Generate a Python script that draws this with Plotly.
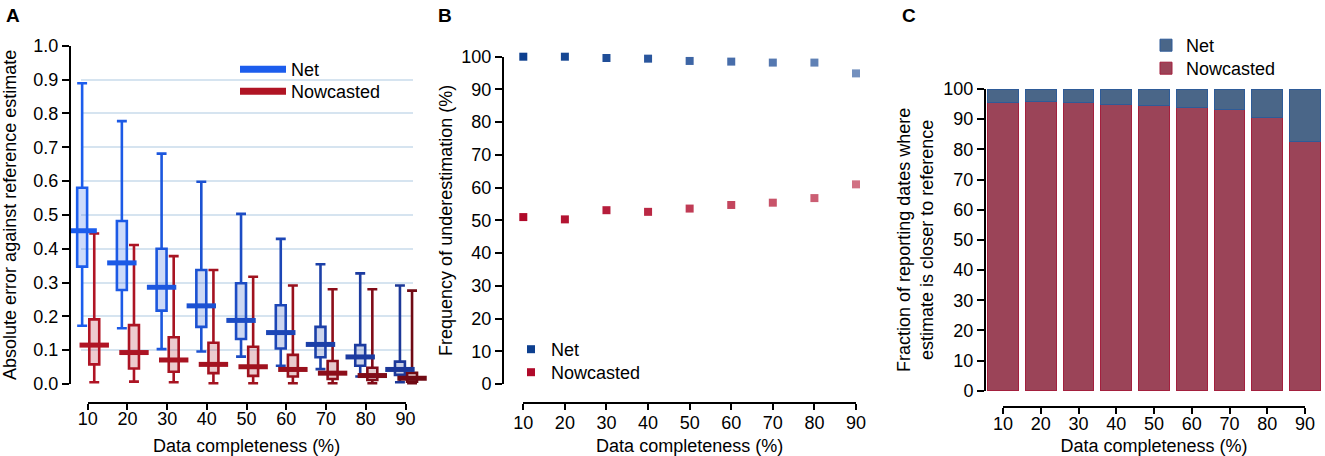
import plotly.graph_objects as go

W, H = 1325, 456

# ---------------- data ----------------
completeness = [10, 20, 30, 40, 50, 60, 70, 80, 90]

# Panel A: absolute error box summaries
net_min = [0.172, 0.165, 0.103, 0.096, 0.081, 0.054, 0.044, 0.022, 0.005]
net_q1 = [0.347, 0.278, 0.217, 0.169, 0.133, 0.105, 0.079, 0.054, 0.027]
net_med = [0.453, 0.358, 0.286, 0.231, 0.188, 0.152, 0.117, 0.080, 0.043]
net_q3 = [0.580, 0.482, 0.400, 0.337, 0.298, 0.233, 0.169, 0.115, 0.066]
net_max = [0.889, 0.777, 0.681, 0.598, 0.503, 0.429, 0.354, 0.327, 0.291]

now_min = [0.005, 0.007, 0.005, 0.002, 0.002, 0.002, 0.002, 0.002, 0.002]
now_q1 = [0.058, 0.046, 0.036, 0.032, 0.024, 0.022, 0.015, 0.012, 0.007]
now_med = [0.115, 0.093, 0.071, 0.058, 0.051, 0.043, 0.032, 0.025, 0.017]
now_q3 = [0.191, 0.174, 0.138, 0.122, 0.110, 0.086, 0.068, 0.048, 0.033]
now_max = [0.445, 0.411, 0.378, 0.337, 0.317, 0.291, 0.280, 0.280, 0.276]

# Panel B: frequency of underestimation (%)
net_under = [100.0, 100.0, 99.6, 99.4, 98.7, 98.5, 98.2, 98.2, 94.9]
now_under = [51.0, 50.3, 53.1, 52.6, 53.6, 54.7, 55.4, 56.8, 61.0]

# Panel C: fraction of reporting dates where estimate is closer to reference (%)
now_closer = [95.4, 95.9, 95.4, 95.0, 94.6, 93.8, 93.3, 90.5, 82.7]
net_closer = [4.6, 4.1, 4.6, 5.0, 5.4, 6.2, 6.7, 9.5, 17.3]

xticks = [10, 20, 30, 40, 50, 60, 70, 80, 90]
yticks_a = [0.0, 0.1, 0.2, 0.3, 0.4, 0.5, 0.6, 0.7, 0.8, 0.9, 1.0]
yticks_a_text = ["0.0", "0.1", "0.2", "0.3", "0.4", "0.5", "0.6", "0.7", "0.8", "0.9", "1.0"]
yticks_pct = [0, 10, 20, 30, 40, 50, 60, 70, 80, 90, 100]

# ---------------- styles ----------------
FONT = "Liberation Sans, Arial, Helvetica, sans-serif"
FS = 18
net_cols = ["#1c5ded", "#1c5ae6", "#1c57de", "#1c52d2", "#1c4cc4", "#1c46b6", "#1c40a8", "#1c3ba0", "#1c3898"]
now_cols = ["#b01424", "#ac1424", "#a81422", "#a41220", "#a0121e", "#98101c", "#8c0e1a", "#800c18", "#700a14"]
b_alpha = [1.0, 0.96, 0.92, 0.88, 0.8, 0.76, 0.7, 0.66, 0.58]


def rgba(hexc, a):
    h = hexc.lstrip("#")
    r, g, b = int(h[0:2], 16), int(h[2:4], 16), int(h[4:6], 16)
    return f"rgba({r},{g},{b},{a})"


def fx(p):
    return p / W


def fy(p):
    return 1 - p / H


def lin(px, p_a, v_a, p_b, v_b):
    return v_a + (px - p_a) * (v_b - v_a) / (p_b - p_a)


layout_axes = {}
axis_font = dict(family=FONT, size=FS, color="black")


def hidden_x(n, dom, rng):
    layout_axes[f"xaxis{n}"] = dict(domain=[fx(dom[0]), fx(dom[1])], range=rng,
                                    visible=False, anchor=f"y{n}", fixedrange=True)


def hidden_y(n, dom, rng, grid=False):
    d = dict(domain=[fy(dom[1]), fy(dom[0])], range=rng, anchor=f"x{n}", fixedrange=True,
             zeroline=False, showline=False, ticks="", showticklabels=False)
    if grid:
        d.update(showgrid=True, gridcolor="#d6e4f0", gridwidth=2, tickvals=yticks_a)
    else:
        d.update(visible=False)
    layout_axes[f"yaxis{n}"] = d


def disp_x(n, x10, x90, ypos, lab_off, standoff):
    layout_axes[f"xaxis{n}"] = dict(
        domain=[fx(x10), fx(x90)], range=[10, 90], anchor="free", position=fy(ypos),
        showline=True, linecolor="black", linewidth=2, ticks="outside", ticklen=6,
        tickwidth=2, tickcolor="black", tickvals=xticks, showgrid=False, zeroline=False,
        tickfont=axis_font, fixedrange=True, ticklabelstandoff=lab_off,
        title=dict(text="Data completeness (%)", font=axis_font, standoff=standoff))


def disp_y(n, y0, ytop, vtop, xpos, tickvals, ticktext, title, standoff):
    layout_axes[f"yaxis{n}"] = dict(
        domain=[fy(y0), fy(ytop)], range=[0, vtop], anchor="free", position=fx(xpos),
        showline=True, linecolor="black", linewidth=2, ticks="outside", ticklen=7,
        tickwidth=2, tickcolor="black", tickvals=tickvals, ticktext=ticktext,
        showgrid=False, zeroline=False, tickfont=axis_font, fixedrange=True,
        title=dict(text=title, font=axis_font, standoff=standoff))


def empty(n):
    return go.Scatter(x=[None], y=[None], xaxis=f"x{n}", yaxis=f"y{n}",
                      showlegend=False, hoverinfo="skip", mode="markers")


fig = go.Figure()

# ================= Panel A =================
A_x10, A_x90 = 87.7, 405.5
A_y0, A_y1 = 384.0, 45.7
# 1: grid pair
hidden_x(1, (81, 413), [0, 1])
hidden_y(1, (A_y1, A_y0), [0, 1.0], grid=True)
fig.add_trace(empty(1))
# 2: display axes
disp_x(2, A_x10, A_x90, 402.7, -6, 11)
disp_y(2, A_y0, A_y1, 1.0, 70, yticks_a, yticks_a_text,
       "Absolute error against reference estimate", 11)
fig.add_trace(empty(2))
# 3: data
A_dom = (71, 427)
hidden_x(3, A_dom, [lin(A_dom[0], A_x10, 10, A_x90, 90), lin(A_dom[1], A_x10, 10, A_x90, 90)])
A_ydom = (40, 392)
hidden_y(3, A_ydom, [lin(A_ydom[1], A_y0, 0, A_y1, 1.0), lin(A_ydom[0], A_y0, 0, A_y1, 1.0)])

off_net, off_now, box_w = -1.4, 1.65, 2.5
for i, c in enumerate(completeness):
    fig.add_trace(go.Box(
        x=[c + off_net], q1=[net_q1[i]], median=[net_med[i]], q3=[net_q3[i]],
        lowerfence=[net_min[i]], upperfence=[net_max[i]], width=box_w, whiskerwidth=1,
        line=dict(color=net_cols[i], width=2.6), fillcolor=rgba(net_cols[i], 0.22),
        boxpoints=False, showlegend=False, xaxis="x3", yaxis="y3", hoverinfo="skip"))
    fig.add_trace(go.Box(
        x=[c + off_now], q1=[now_q1[i]], median=[now_med[i]], q3=[now_q3[i]],
        lowerfence=[now_min[i]], upperfence=[now_max[i]], width=box_w, whiskerwidth=1,
        line=dict(color=now_cols[i], width=2.6), fillcolor=rgba(now_cols[i], 0.22),
        boxpoints=False, showlegend=False, xaxis="x3", yaxis="y3", hoverinfo="skip"))

fig.add_trace(go.Scatter(
    x=[c + off_net for c in completeness], y=net_med, mode="markers",
    marker=dict(symbol="line-ew", size=21, line=dict(width=5, color=net_cols)),
    showlegend=False, xaxis="x3", yaxis="y3", hoverinfo="skip"))
fig.add_trace(go.Scatter(
    x=[c + off_now for c in completeness], y=now_med, mode="markers",
    marker=dict(symbol="line-ew", size=21, line=dict(width=5, color=now_cols)),
    showlegend=False, xaxis="x3", yaxis="y3", hoverinfo="skip"))

# legend entries A
fig.add_trace(go.Scatter(x=[None], y=[None], mode="lines", name="Net",
                         line=dict(color="#1c5ded", width=7), legend="legend",
                         xaxis="x3", yaxis="y3"))
fig.add_trace(go.Scatter(x=[None], y=[None], mode="lines", name="Nowcasted",
                         line=dict(color="#b01424", width=7), legend="legend2",
                         xaxis="x3", yaxis="y3"))

# ================= Panel B =================
B_x10, B_x90 = 523.3, 856.0
B_y0, B_y100 = 384.0, 56.7
disp_x(4, B_x10, B_x90, 402.7, -2, 6)
disp_y(4, B_y0, B_y100, 100, 503, yticks_pct, None,
       "Frequency of underestimation (%)", 3)
fig.add_trace(empty(4))
B_dom = (505, 872)
hidden_x(5, B_dom, [lin(B_dom[0], B_x10, 10, B_x90, 90), lin(B_dom[1], B_x10, 10, B_x90, 90)])
B_ydom = (45, 392)
hidden_y(5, B_ydom, [lin(B_ydom[1], B_y0, 0, B_y100, 100), lin(B_ydom[0], B_y0, 0, B_y100, 100)])

fig.add_trace(go.Scatter(
    x=completeness, y=net_under, mode="markers", name="Net",
    marker=dict(symbol="square", size=8, color=[rgba("#0d3f8f", a) for a in b_alpha]),
    legend="legend3", xaxis="x5", yaxis="y5", hoverinfo="skip"))
fig.add_trace(go.Scatter(
    x=completeness, y=now_under, mode="markers", name="Nowcasted",
    marker=dict(symbol="square", size=8, color=[rgba("#b00a2a", a) for a in b_alpha]),
    legend="legend4", xaxis="x5", yaxis="y5", hoverinfo="skip"))

# ================= Panel C =================
C_x10, C_x90 = 1003.0, 1305.0
C_y0, C_y100 = 390.7, 89.0
disp_x(6, C_x10, C_x90, 407, -6, 6)
disp_y(6, C_y0, C_y100, 100, 985, yticks_pct, None,
       "Fraction of reporting dates where<br>estimate is closer to reference", 4)
fig.add_trace(empty(6))
C_dom = (986, 1325)
hidden_x(7, C_dom, [lin(C_dom[0], C_x10, 10, C_x90, 90), lin(C_dom[1], C_x10, 10, C_x90, 90)])
C_ydom = (80, 392)
hidden_y(7, C_ydom, [lin(C_ydom[1], C_y0, 0, C_y100, 100), lin(C_ydom[0], C_y0, 0, C_y100, 100)])

bar_w = 8.2
fig.add_trace(go.Bar(
    x=completeness, y=now_closer, name="Nowcasted", width=bar_w,
    marker=dict(color="#9b4458", line=dict(color="#a3203e", width=1)),
    legend="legend6", xaxis="x7", yaxis="y7", hoverinfo="skip"))
fig.add_trace(go.Bar(
    x=completeness, y=net_closer, name="Net", width=bar_w,
    marker=dict(color="#4a6688", line=dict(color="#2e5b98", width=1)),
    legend="legend5", xaxis="x7", yaxis="y7", hoverinfo="skip"))


def leg(x, y, itemwidth=30):
    return dict(x=fx(x), y=fy(y), xanchor="left", yanchor="top",
                font=dict(family=FONT, size=FS, color="black"), bgcolor="rgba(0,0,0,0)",
                traceorder="normal", itemwidth=itemwidth,
                itemclick=False, itemdoubleclick=False)


fig.update_layout(
    width=W, height=H, margin=dict(l=0, r=0, t=0, b=0, autoexpand=False),
    paper_bgcolor="white", plot_bgcolor="rgba(0,0,0,0)",
    font=dict(family=FONT, size=FS, color="black"),
    barmode="stack", boxmode="overlay", showlegend=True,
    legend=leg(235, 51, 46), legend2=leg(235, 73, 46),
    legend3=leg(511, 331), legend4=leg(511, 354),
    legend5=leg(1146, 27), legend6=leg(1146, 50),
    annotations=[
        dict(text="<b>A</b>", x=fx(4), y=fy(3), xref="paper", yref="paper", showarrow=False,
             xanchor="left", yanchor="top", font=dict(family=FONT, size=19, color="black")),
        dict(text="<b>B</b>", x=fx(436), y=fy(3), xref="paper", yref="paper", showarrow=False,
             xanchor="left", yanchor="top", font=dict(family=FONT, size=19, color="black")),
        dict(text="<b>C</b>", x=fx(900), y=fy(3), xref="paper", yref="paper", showarrow=False,
             xanchor="left", yanchor="top", font=dict(family=FONT, size=19, color="black")),
    ],
    **layout_axes,
)

fig.write_html("out.html", config={"displayModeBar": False},
               post_script="document.body.style.margin='0px';document.body.style.overflow='hidden';")
